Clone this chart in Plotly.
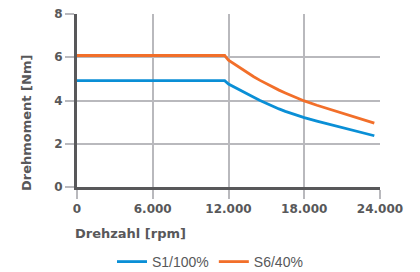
import plotly.graph_objects as go

rpm = [0, 11700, 12000, 12500, 13000, 13500, 14000, 14500, 15000, 15500, 16000, 16500, 17000, 17500, 18000, 19000, 20000, 21000, 22000, 23000, 23550]
s1_100 = [4.92, 4.92, 4.76, 4.6, 4.44, 4.29, 4.15, 4.0, 3.86, 3.73, 3.61, 3.5, 3.4, 3.3, 3.21, 3.05, 2.9, 2.76, 2.62, 2.47, 2.37]
s6_40 = [6.08, 6.08, 5.86, 5.66, 5.47, 5.28, 5.1, 4.93, 4.77, 4.62, 4.48, 4.35, 4.22, 4.1, 3.98, 3.78, 3.6, 3.43, 3.26, 3.07, 2.95]

x_ticks = [0, 6000, 12000, 18000, 24000]
y_ticks = [0, 2, 4, 6, 8]

fig = go.Figure()
fig.add_trace(go.Scatter(x=rpm, y=s1_100, mode="lines", name="S1/100%",
                         line=dict(color="#0a8fd6", width=2.8)))
fig.add_trace(go.Scatter(x=rpm, y=s6_40, mode="lines", name="S6/40%",
                         line=dict(color="#f26f2a", width=2.8)))

bold_fam = "DejaVu Sans, sans-serif"
reg_fam = "Liberation Sans, Arial, sans-serif"
txt_col = "#58585a"
grid_col = "#b9b9bd"

fig.update_layout(
    width=420, height=272,
    margin=dict(l=77, r=40, t=14, b=85, autoexpand=False),
    paper_bgcolor="white", plot_bgcolor="white",
    separators=",.",
    font=dict(family=reg_fam, color=txt_col),
    showlegend=True,
    legend=dict(orientation="h", x=0.5, xanchor="center", xref="container",
                y=10/272, yanchor="middle", yref="container",
                font=dict(size=14, color=txt_col, family=reg_fam),
                itemwidth=30, tracegroupgap=0),
    xaxis=dict(range=[0, 24000], tickvals=x_ticks, tickformat=",d", automargin=False,
               showgrid=True, gridcolor=grid_col, gridwidth=2,
               showline=True, linecolor=txt_col, linewidth=3,
               ticks="outside", ticklen=9, tickcolor=grid_col, tickwidth=2,
               tickfont=dict(size=12, color=txt_col, family=bold_fam, weight="bold"),
               zeroline=False),
    yaxis=dict(range=[0, 8], tickvals=y_ticks, automargin=False,
               showgrid=True, gridcolor=grid_col, gridwidth=2,
               showline=True, linecolor=txt_col, linewidth=3,
               ticks="outside", ticklen=9, tickcolor=grid_col, tickwidth=2,
               tickfont=dict(size=12, color=txt_col, family=bold_fam, weight="bold"),
               zeroline=False),
    annotations=[
        dict(text="<b>Drehzahl [rpm]</b>", xref="paper", yref="paper",
             x=(130 - 77) / 303, y=(187 - 233) / 173, xanchor="center", yanchor="middle",
             showarrow=False, font=dict(size=13, color=txt_col, family=bold_fam)),
        dict(text="<b>Drehmoment [Nm]</b>", xref="paper", yref="paper", textangle=-90,
             x=(26 - 77) / 303, y=(187 - 123) / 173, xanchor="center", yanchor="middle",
             showarrow=False, font=dict(size=13, color=txt_col, family=bold_fam)),
    ],
)

fig.write_html("out.html", config={"displayModeBar": False},
               post_script="document.body.style.margin='0';")
